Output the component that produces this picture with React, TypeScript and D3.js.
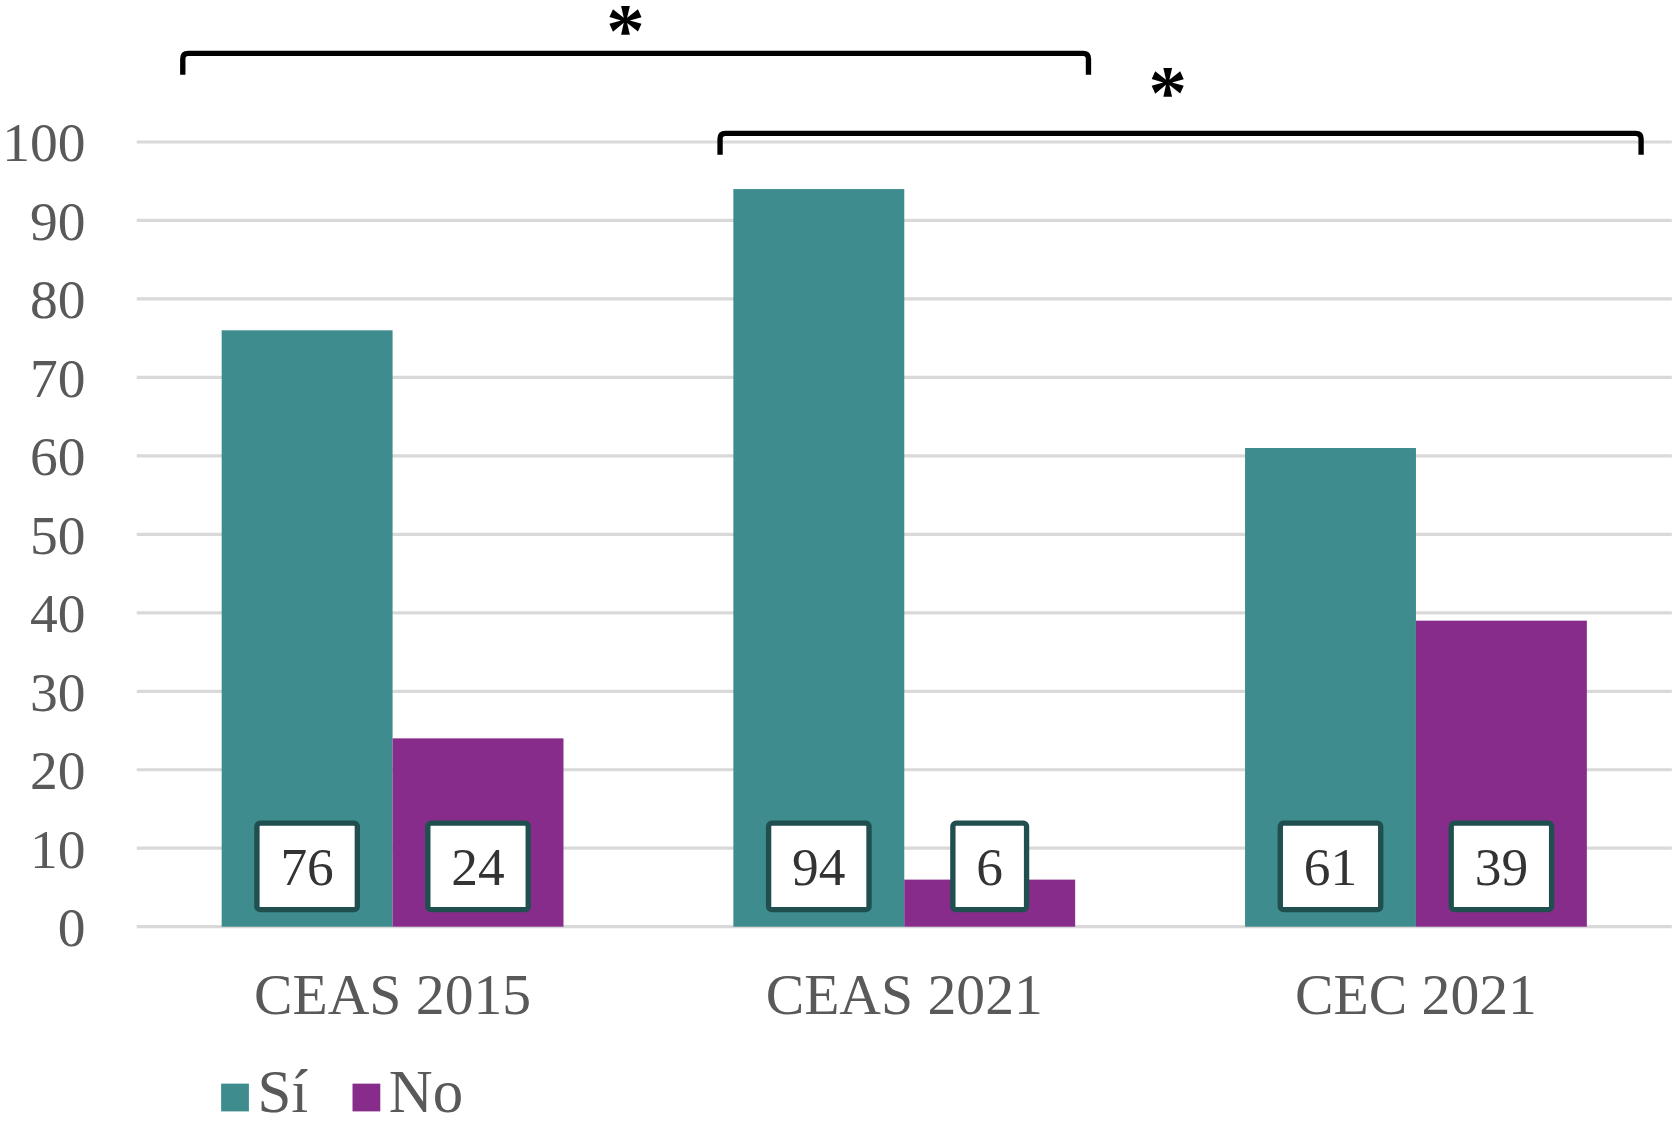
import * as d3 from "d3";

const categories = ["CEAS 2015", "CEAS 2021", "CEC 2021"];
const siValues = [76, 94, 61];
const noValues = [24, 6, 39];
const seriesNames = ["Sí", "No"];
const seriesColors = ["#3e8c8d", "#882c8b"];
const yTicks = [0, 10, 20, 30, 40, 50, 60, 70, 80, 90, 100];

// significance brackets, in category-index units and value units
const bracketFrom = [-0.41, 0.64];
const bracketTo = [1.36, 2.44];
const bracketLevel = [111.3, 101.1];
const starAt = [0.455, 1.515];
const starLevel = [111.0, 103.0];

export default function App() {
  const W = 1568;
  const H = 1050;
  const margin = { left: 128, right: 3, top: 133, bottom: 182 };

  const x = d3
    .scaleBand<string>()
    .domain(categories)
    .range([margin.left, W - margin.right])
    .paddingInner(0.332)
    .paddingOuter(0.166);

  const inner = d3
    .scaleBand<string>()
    .domain(seriesNames)
    .range([0, x.bandwidth()]);

  const y = d3.scaleLinear().domain([0, 100]).range([H - margin.bottom, margin.top]);

  // category index -> pixel centre
  const xi = d3
    .scaleLinear()
    .domain([0, 1])
    .range([x(categories[0])! + x.bandwidth() / 2, x(categories[1])! + x.bandwidth() / 2]);

  const series = [siValues, noValues];
  const labelFont = 50;
  const serif = "'Liberation Serif', 'Times New Roman', serif";

  return (
    <div style={{ position: "absolute", left: 0, top: 0 }}>
      <svg width={1675} height={1121} viewBox={`0 0 ${W} ${H}`} preserveAspectRatio="none">
        <rect width={W} height={H} fill="#fff" />
        {yTicks.map((t) => (
          <g key={t}>
            <line
              x1={margin.left}
              x2={W - margin.right}
              y1={y(t)}
              y2={y(t)}
              stroke="#d9d9d9"
              strokeWidth={3}
            />
            <text
              x={80}
              y={y(t)}
              dy="0.35em"
              textAnchor="end"
              fontFamily={serif}
              fontSize={52}
              fill="#595959"
            >
              {t}
            </text>
          </g>
        ))}

        {categories.map((c, ci) => (
          <g key={c} transform={`translate(${x(c)},0)`}>
            {series.map((vals, si) => {
              const bx = inner(seriesNames[si])!;
              const bw = inner.bandwidth();
              const v = vals[ci];
              const txt = String(v);
              const boxW = txt.length * labelFont * 0.5 + 44;
              const boxH = 81;
              const cx = bx + bw / 2;
              const boxBottom = y(0) - 16;
              return (
                <g key={si}>
                  <rect
                    x={bx}
                    y={y(v)}
                    width={bw}
                    height={y(0) - y(v)}
                    fill={seriesColors[si]}
                  />
                  <rect
                    x={cx - boxW / 2}
                    y={boxBottom - boxH}
                    width={boxW}
                    height={boxH}
                    rx={3}
                    fill="#fff"
                    stroke="#1f4f4f"
                    strokeWidth={5}
                  />
                  <text
                    x={cx}
                    y={boxBottom - boxH / 2}
                    dy="0.35em"
                    textAnchor="middle"
                    fontFamily={serif}
                    fontSize={labelFont}
                    fill="#333"
                  >
                    {txt}
                  </text>
                </g>
              );
            })}
            <text
              x={x.bandwidth() / 2}
              y={950}
              textAnchor="middle"
              fontFamily={serif}
              fontSize={54}
              fill="#595959"
            >
              {c}
            </text>
          </g>
        ))}

        {bracketFrom.map((f, i) => {
          const x0 = xi(f);
          const x1 = xi(bracketTo[i]);
          const top = y(bracketLevel[i]);
          const drop = 20;
          const r = 5;
          const path = `M${x0},${top + drop} V${top + r} Q${x0},${top} ${x0 + r},${top} H${x1 - r} Q${x1},${top} ${x1},${top + r} V${top + drop}`;
          return (
            <g key={i}>
              <path d={path} fill="none" stroke="#000" strokeWidth={5} />
              <text
                x={xi(starAt[i])}
                y={y(starLevel[i])}
                textAnchor="middle"
                fontFamily={serif}
                fontWeight="bold"
                fontSize={72}
                fill="#000"
              >
                *
              </text>
            </g>
          );
        })}

        {seriesNames.map((s, i) => {
          const lx = [207, 330][i];
          return (
            <g key={s}>
              <rect x={lx} y={1015} width={26} height={26} fill={seriesColors[i]} />
              <text x={lx + 34} y={1042} fontFamily={serif} fontSize={57} fill="#595959">
                {s}
              </text>
            </g>
          );
        })}
      </svg>
    </div>
  );
}
